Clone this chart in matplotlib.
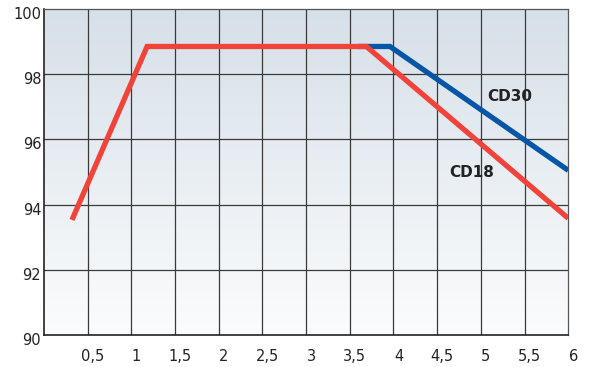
import numpy as np
import matplotlib.pyplot as plt
from matplotlib.colors import LinearSegmentedColormap
from matplotlib.transforms import ScaledTranslation

# данные
cd18_x = [0.32, 1.18, 3.69, 6.0]
cd18_y = [93.53, 98.85, 98.85, 93.58]
cd30_x = [3.6, 3.96, 6.0]
cd30_y = [98.85, 98.85, 95.05]

x_ticks = [0.5, 1, 1.5, 2, 2.5, 3, 3.5, 4, 4.5, 5, 5.5, 6]
x_labels = ['0,5', '1', '1,5', '2', '2,5', '3', '3,5', '4', '4,5', '5', '5,5', '6']
y_ticks = [90, 92, 94, 96, 98, 100]

fig = plt.figure(figsize=(5.9, 3.67), dpi=100)
ax = fig.add_axes([0.0746, 0.0872, 0.8885, 0.8883])

# градиентный фон
cmap = LinearSegmentedColormap.from_list('bg', ['#fbfcfd', '#d6e0e8'])
grad = np.linspace(0, 1, 256).reshape(-1, 1)
ax.imshow(grad, extent=[0, 6, 90, 100], origin='lower', aspect='auto',
          cmap=cmap, zorder=0)

ax.set_xlim(0, 6)
ax.set_ylim(90, 100)

for xv in np.arange(0.5, 6, 0.5):
    ax.axvline(xv, color='#3a3a3a', lw=0.9, zorder=1)
for yv in y_ticks[1:-1]:
    ax.axhline(yv, color='#3a3a3a', lw=0.9, zorder=1)

ax.plot(cd30_x, cd30_y, color='#0656a8', lw=3.8, solid_capstyle='butt',
        solid_joinstyle='miter', zorder=3)
ax.plot(cd18_x, cd18_y, color='#f1433a', lw=3.8, solid_capstyle='butt',
        solid_joinstyle='miter', zorder=4)

ax.text(5.07, 97.33, 'CD30', fontsize=11, fontweight='bold', color='#222222',
        va='center', ha='left', zorder=5)
ax.text(4.64, 94.98, 'CD18', fontsize=11, fontweight='bold', color='#222222',
        va='center', ha='left', zorder=5)

ax.set_xticks(x_ticks)
ax.set_xticklabels(x_labels, fontsize=10.5, color='#222222')
ax.set_yticks(y_ticks)
ax.set_yticklabels([str(v) for v in y_ticks], fontsize=10.5, color='#222222')
ax.tick_params(length=0, pad=2)
ax.tick_params(axis='x', pad=10)

off_x = ScaledTranslation(5 / 100, 0, fig.dpi_scale_trans)
for lab in ax.get_xticklabels():
    lab.set_transform(lab.get_transform() + off_x)
off_y = ScaledTranslation(0, -4 / 100, fig.dpi_scale_trans)
for lab in ax.get_yticklabels():
    lab.set_transform(lab.get_transform() + off_y)

for side in ['left', 'bottom']:
    ax.spines[side].set_color('#222222')
    ax.spines[side].set_linewidth(1.2)
for side in ['top', 'right']:
    ax.spines[side].set_color('#555555')
    ax.spines[side].set_linewidth(0.9)

fig.savefig('out.png', dpi=100)
